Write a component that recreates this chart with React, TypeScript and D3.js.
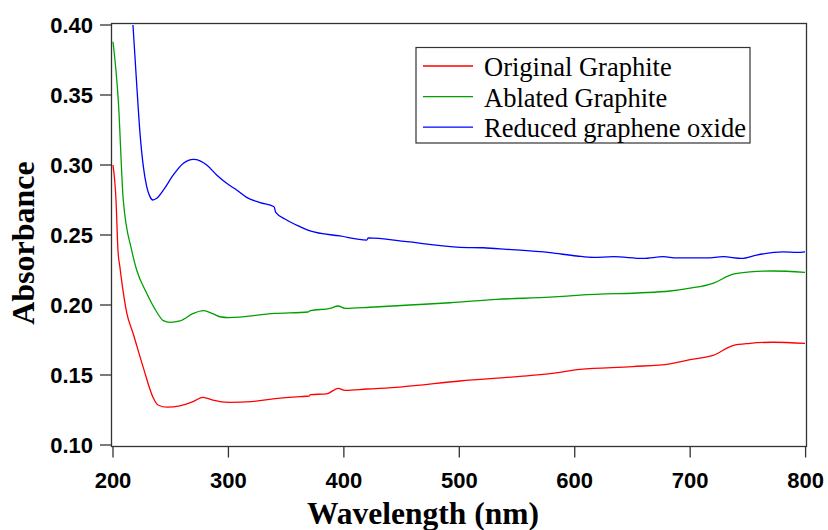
import React from "react";
import * as d3 from "d3";

const xTicks = [200, 300, 400, 500, 600, 700, 800];
const yTicks = [0.1, 0.15, 0.2, 0.25, 0.3, 0.35, 0.4];
const seriesNames = ["Original Graphite", "Ablated Graphite", "Reduced graphene oxide"];
const seriesColors = ["#ff0000", "#00a000", "#0000ff"];

const redWl = [200, 202.6, 204.3, 206, 212, 217.3, 226, 234.7, 239, 246.8, 258, 269.3, 278, 286.6, 292.7, 301, 320, 345, 362, 370, 371, 385, 395, 401, 420, 448.6, 500.6, 552.6, 578.6, 604.6, 650, 682.5, 699.9, 719.8, 737, 751.8, 771.8, 799.5];
const redAbs = [0.3, 0.275, 0.239, 0.227, 0.194, 0.18, 0.156, 0.134, 0.1286, 0.127, 0.128, 0.131, 0.134, 0.132, 0.131, 0.1305, 0.131, 0.1335, 0.1345, 0.135, 0.136, 0.1365, 0.1405, 0.139, 0.14, 0.1414, 0.1457, 0.149, 0.151, 0.154, 0.156, 0.158, 0.161, 0.164, 0.171, 0.1726, 0.1734, 0.1726];

const greenWl = [200, 204.6, 208.9, 216.2, 220.5, 229.2, 237.9, 243.6, 249.4, 258, 269.6, 278.2, 287, 292.7, 300, 340, 369, 371, 388, 395, 401, 422.6, 457, 492, 532.4, 578.6, 604.6, 682.5, 699.9, 719.8, 737.1, 751.8, 771.8, 799.5];
const greenAbs = [0.388, 0.346, 0.275, 0.239, 0.225, 0.2084, 0.195, 0.1888, 0.1876, 0.1886, 0.194, 0.196, 0.1936, 0.1916, 0.191, 0.194, 0.195, 0.196, 0.1976, 0.1993, 0.1976, 0.1984, 0.2, 0.2016, 0.204, 0.2056, 0.207, 0.21, 0.212, 0.2155, 0.222, 0.2236, 0.2243, 0.2233];

const blueWl = [217.3, 220.5, 223.4, 226.3, 229.2, 232, 234.4, 237.9, 243.6, 252.3, 261, 269.6, 275.4, 281.2, 289.8, 298.5, 307.2, 315.8, 327.4, 339.5, 341, 350.5, 362, 370.7, 396.7, 419.8, 421.2, 454.4, 500.6, 520.8, 541, 578.6, 601.7, 616, 633.4, 659.4, 676.7, 688.3, 714.3, 728.7, 744.6, 757.6, 780.7, 792.3, 799.5];
const blueAbs = [0.4, 0.358, 0.3226, 0.2988, 0.2845, 0.2774, 0.275, 0.2762, 0.282, 0.2929, 0.3012, 0.304, 0.303, 0.3, 0.2929, 0.2869, 0.2821, 0.2769, 0.2731, 0.2702, 0.2662, 0.2607, 0.256, 0.2529, 0.2493, 0.2464, 0.248, 0.2452, 0.2412, 0.2409, 0.2398, 0.2374, 0.235, 0.234, 0.2345, 0.2333, 0.2345, 0.2336, 0.2336, 0.2345, 0.2333, 0.2357, 0.2379, 0.2376, 0.238];

const seriesWl = [redWl, greenWl, blueWl];
const seriesAbs = [redAbs, greenAbs, blueAbs];

export default function App() {
  const W = 828, H = 530;
  const x = d3.scaleLinear().domain([200, 800]).range([113, 805.6]);
  const y = d3.scaleLinear().domain([0.1, 0.4]).range([445, 25]);
  const frameL = 111.5, frameR = 806.5, frameT = 23.5, frameB = 446.5;
  const line = d3
    .line<[number, number]>()
    .x((d) => x(d[0]))
    .y((d) => y(d[1]))
    .curve(d3.curveMonotoneX);
  const axisFont = "'Liberation Sans', Arial, sans-serif";
  const serif = "'Liberation Serif', 'Times New Roman', serif";
  const frameColor = "#333";
  return (
    <svg width={W} height={H} style={{ position: "absolute", left: 0, top: 0 }}>
      <rect x={0} y={0} width={W} height={H} fill="#fff" />
      <defs>
        <clipPath id="plotclip">
          <rect x={frameL} y={frameT} width={frameR - frameL} height={frameB - frameT} />
        </clipPath>
      </defs>
      <g clipPath="url(#plotclip)">
        {seriesWl.map((wl, i) => (
          <path
            key={i}
            d={line(wl.map((w, j) => [w, seriesAbs[i][j]] as [number, number])) || ""}
            fill="none"
            stroke={seriesColors[i]}
            strokeWidth={1.3}
          />
        ))}
      </g>
      <rect x={frameL} y={frameT} width={frameR - frameL} height={frameB - frameT} fill="none" stroke={frameColor} strokeWidth={1.3} />
      {yTicks.map((t) => (
        <g key={t}>
          <line x1={100} x2={frameL} y1={y(t)} y2={y(t)} stroke={frameColor} strokeWidth={1.3} />
          <text x={93} y={y(t)} dy="0.36em" textAnchor="end" fontFamily={axisFont} fontWeight="bold" fontSize={22}>
            {t.toFixed(2)}
          </text>
        </g>
      ))}
      {xTicks.map((t) => (
        <g key={t}>
          <line x1={x(t)} x2={x(t)} y1={frameB} y2={frameB + 11} stroke={frameColor} strokeWidth={1.3} />
          <text x={x(t)} y={487.5} textAnchor="middle" fontFamily={axisFont} fontWeight="bold" fontSize={22}>
            {t}
          </text>
        </g>
      ))}
      <text x={423} y={524} textAnchor="middle" fontFamily={serif} fontWeight="bold" fontSize={31.5}>
        Wavelength (nm)
      </text>
      <text
        transform={`translate(34,243) rotate(-90)`}
        textAnchor="middle"
        fontFamily={serif}
        fontWeight="bold"
        fontSize={32}
      >
        Absorbance
      </text>
      <rect x={416} y={47.5} width={334} height={95.5} fill="#fff" stroke={frameColor} strokeWidth={1.2} />
      {seriesNames.map((n, i) => (
        <g key={n}>
          <line x1={423} x2={473} y1={66 + i * 30.6} y2={66 + i * 30.6} stroke={seriesColors[i]} strokeWidth={1.3} />
          <text x={484} y={76 + i * 30.6} fontFamily={serif} fontSize={26.5}>
            {n}
          </text>
        </g>
      ))}
    </svg>
  );
}
